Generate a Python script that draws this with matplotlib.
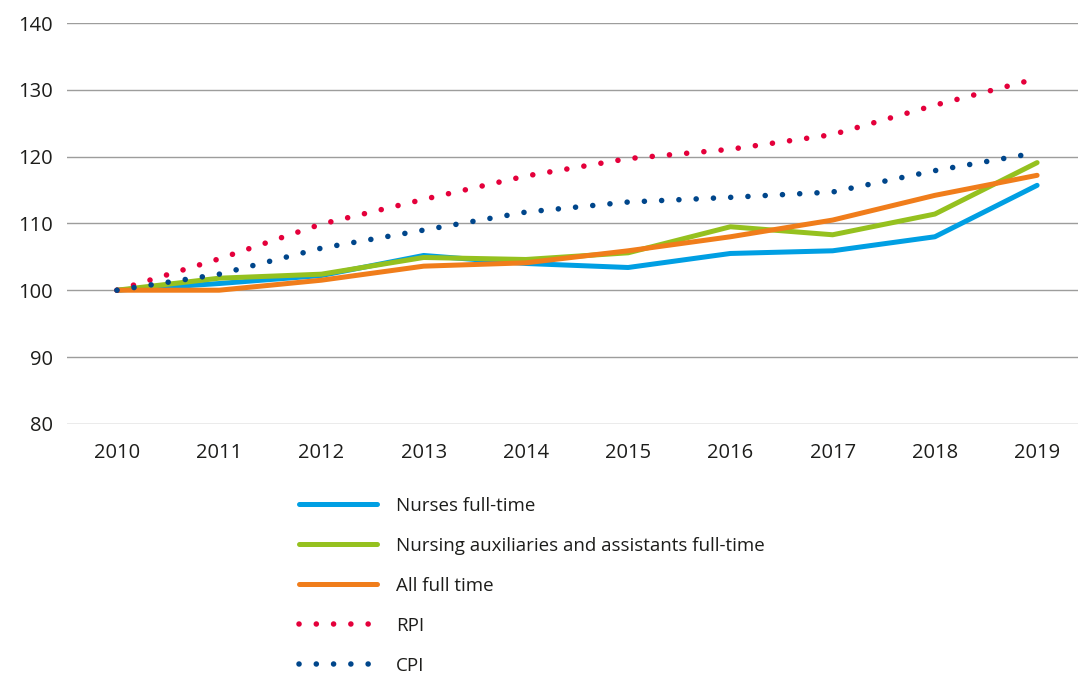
import matplotlib
matplotlib.use("Agg")
from matplotlib import pyplot as plt

years = [2010, 2011, 2012, 2013, 2014, 2015, 2016, 2017, 2018, 2019]
nurses = [100, 101.0, 102.2, 105.2, 104.0, 103.4, 105.5, 105.9, 108.0, 115.7]
auxiliaries = [100, 101.8, 102.4, 104.9, 104.6, 105.6, 109.5, 108.3, 111.4, 119.1]
all_full_time = [100, 100.0, 101.5, 103.6, 104.1, 105.9, 108.0, 110.5, 114.2, 117.2]
rpi = [100, 104.7, 109.9, 113.6, 117.1, 119.7, 121.1, 123.3, 127.7, 131.7]
cpi = [100, 102.4, 106.3, 109.0, 111.7, 113.2, 113.9, 114.7, 117.9, 120.6]

labels = ["Nurses full-time", "Nursing auxiliaries and assistants full-time",
          "All full time", "RPI", "CPI"]
y_ticks = [80, 90, 100, 110, 120, 130, 140]

plt.rcParams['font.family'] = ['Open Sans', 'DejaVu Sans']

fig = plt.figure(figsize=(10.78, 6.77), dpi=100)
ax = fig.add_axes([0.062, 0.374, 0.938, 0.592])

lw = 3.6
dot_lw = 4.0
dots = (0, (0.01, 3.1))
ax.plot(years, nurses, color="#009fe3", lw=lw, solid_capstyle="round", label=labels[0])
ax.plot(years, auxiliaries, color="#95c11f", lw=lw, solid_capstyle="round", label=labels[1])
ax.plot(years, all_full_time, color="#f07d1b", lw=lw, solid_capstyle="round", label=labels[2])
ax.plot(years, rpi, color="#e4003b", lw=dot_lw, linestyle=dots,
        dash_capstyle="round", label=labels[3])
ax.plot(years, cpi, color="#00468b", lw=dot_lw, linestyle=dots,
        dash_capstyle="round", label=labels[4])

ax.set_xlim(2009.51, 2019.4)
ax.set_ylim(80, 140)
ax.set_xticks(years)
ax.set_yticks(y_ticks)
ax.tick_params(length=0, labelsize=14.5, colors="#1d1d1b")
ax.tick_params(axis="y", pad=10)
ax.tick_params(axis="x", pad=14)
for s in ax.spines.values():
    s.set_visible(False)
ax.grid(axis="y", color="#9d9d9c", lw=1.0)
ax.set_axisbelow(True)

fig.legend(loc="upper left", bbox_to_anchor=(0.27, 0.277), frameon=False,
           fontsize=13.5, handlelength=4.2, handletextpad=1.0, labelspacing=1.17,
           borderaxespad=0, labelcolor="#1d1d1b")

fig.savefig("out.png", dpi=100)
